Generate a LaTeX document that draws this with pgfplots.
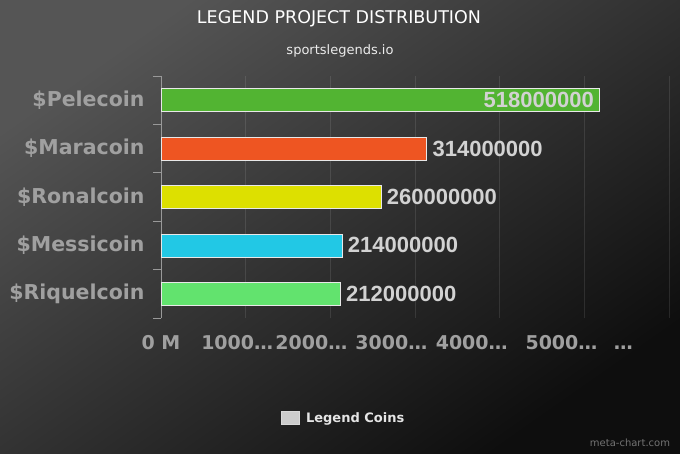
\documentclass[border=0pt]{standalone}
\usepackage{pgfplots}
\pgfplotsset{compat=1.18}
\usepackage{fontspec}
\setmainfont{DejaVu Sans}
\newfontfamily\arialf{Liberation Sans}
\definecolor{cPele}{HTML}{52B432}
\definecolor{cMara}{HTML}{EE5522}
\definecolor{cRona}{HTML}{DDE000}
\definecolor{cMessi}{HTML}{22C8E5}
\definecolor{cRique}{HTML}{62E36E}
\definecolor{barborder}{HTML}{E8E8E8}
\definecolor{valtext}{HTML}{D2D2D2}
\definecolor{labtext}{HTML}{A0A0A0}
\definecolor{bgtop}{HTML}{555555}
\definecolor{bgbot}{HTML}{0E0E0E}
\begin{document}
\begin{tikzpicture}[x=1pt,y=1pt]
\shade[top color=bgtop, bottom color=bgbot, shading angle=35] (0,0) rectangle (680,453);
\node[font=\fontsize{17.5}{19}\selectfont, text=white] at (339,434) {LEGEND PROJECT DISTRIBUTION};
\node[font=\fontsize{13}{15}\selectfont, text=white!92!black] at (340,402) {sportslegends.io};
\node[font=\fontsize{10}{12}\selectfont, text=white!45!black] at (630,10) {meta-chart.com};
\begin{axis}[
  at={(161pt,135pt)}, anchor=south west,
  scale only axis, width=508pt, height=242pt,
  xmin=0, xmax=600000000, ymin=-0.5, ymax=4.5,
  xbar, bar width=23pt, bar shift=0pt,
  axis y line*=left, axis x line*=bottom,
  x axis line style={draw=none},
  y axis line style={draw=white!60!black, line width=0.8pt, -},
  xtick={0,100000000,200000000,300000000,400000000,500000000,600000000},
  xticklabels={},
  xmajorgrids,
  major grid style={draw=white, opacity=0.1, line width=0.8pt},
  major tick length=0pt,
  extra x ticks={0,90000000,177600000,272000000,367000000,473000000,546000000},
  extra x tick labels={0 M,1000…,2000…,3000…,4000…,5000…,…},
  extra x tick style={grid=none, major tick length=0pt},
  xticklabel style={font=\bfseries\fontsize{19}{21}\selectfont, text=labtext, anchor=base, yshift=-31pt},
  ytick={0,1,2,3,4},
  yticklabels={\$Riquelcoin,\$Messicoin,\$Ronalcoin,\$Maracoin,\$Pelecoin},
  yticklabel style={font=\bfseries\fontsize{20.5}{22}\selectfont, text=labtext, xshift=-13pt},
  minor ytick={-0.5,0.5,1.5,2.5,3.5,4.5},
  minor tick length=8pt,
  tick align=outside,
  minor tick style={draw=white!60!black, line width=0.8pt},
  scaled x ticks=false,
  clip=false,
  nodes near coords,
  point meta=x,
  nodes near coords style={font=\arialf\bfseries\fontsize{22}{24}\selectfont, text=valtext, /pgf/number format/fixed, /pgf/number format/precision=0, /pgf/number format/1000 sep={}, /pgf/number format/assume math mode=true, xshift=2pt},
  legend style={at={(0.36,-0.413)}, anchor=center, draw=none, fill=none, text=white!90!black, font=\bfseries\fontsize{13}{15}\selectfont, legend cell align=left, /tikz/column sep=4pt},
]
\addlegendimage{legend image code/.code={\draw[fill=white!80!black, draw=white!85!black, line width=0.6pt] (0pt,-6.5pt) rectangle (18pt,6.5pt);}}
\addlegendentry{Legend Coins}
\addplot[fill=cPele, draw=barborder, line width=0.8pt, nodes near coords style={anchor=east, xshift=-4pt}] coordinates {(518000000,4)};
\addplot[fill=cMara, draw=barborder, line width=0.8pt] coordinates {(314000000,3)};
\addplot[fill=cRona, draw=barborder, line width=0.8pt] coordinates {(260000000,2)};
\addplot[fill=cMessi, draw=barborder, line width=0.8pt] coordinates {(214000000,1)};
\addplot[fill=cRique, draw=barborder, line width=0.8pt] coordinates {(212000000,0)};
\end{axis}
\end{tikzpicture}
\end{document}
